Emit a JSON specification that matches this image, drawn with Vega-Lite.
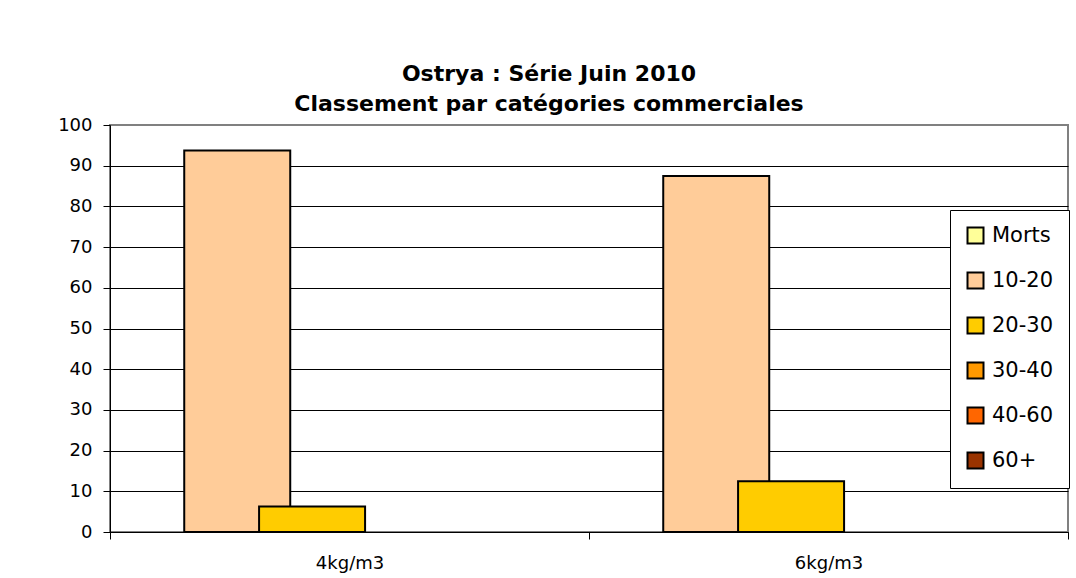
{
  "$schema": "https://vega.github.io/schema/vega-lite/v6.json",
  "width": 958,
  "height": 407,
  "autosize": {"type": "none"},
  "padding": {"left": 110, "top": 125, "right": 8, "bottom": 46},
  "background": "white",
  "title": {
    "text": ["Ostrya : Série Juin 2010", "Classement par catégories commerciales"],
    "font": "DejaVu Sans",
    "fontSize": 22,
    "fontWeight": "bold",
    "color": "black",
    "anchor": "middle",
    "dx": -40,
    "offset": 0,
    "lineHeight": 30
  },
  "data": {
    "values": [
      {"densite": "4kg/m3", "categorie": "Morts", "valeur": 0},
      {"densite": "4kg/m3", "categorie": "10-20", "valeur": 93.75},
      {"densite": "4kg/m3", "categorie": "20-30", "valeur": 6.25},
      {"densite": "4kg/m3", "categorie": "30-40", "valeur": 0},
      {"densite": "4kg/m3", "categorie": "40-60", "valeur": 0},
      {"densite": "4kg/m3", "categorie": "60+", "valeur": 0},
      {"densite": "6kg/m3", "categorie": "Morts", "valeur": 0},
      {"densite": "6kg/m3", "categorie": "10-20", "valeur": 87.5},
      {"densite": "6kg/m3", "categorie": "20-30", "valeur": 12.5},
      {"densite": "6kg/m3", "categorie": "30-40", "valeur": 0},
      {"densite": "6kg/m3", "categorie": "40-60", "valeur": 0},
      {"densite": "6kg/m3", "categorie": "60+", "valeur": 0}
    ]
  },
  "transform": [{"filter": "datum.valeur > 0"}],
  "mark": {"type": "bar", "width": 106, "stroke": "black", "strokeWidth": 2},
  "encoding": {
    "x": {
      "field": "densite",
      "type": "nominal",
      "scale": {"paddingInner": 0, "paddingOuter": 0},
      "axis": {
        "title": null,
        "labelAngle": 0,
        "labelFont": "DejaVu Sans",
        "labelFontSize": 18,
        "labelColor": "black",
        "labelPadding": 15,
        "tickBand": "extent",
        "tickSize": 7,
        "tickColor": "black",
        "domainColor": "black",
        "domainWidth": 1,
        "zindex": 1
      }
    },
    "xOffset": {
      "field": "categorie",
      "type": "nominal",
      "scale": {
        "domain": ["Morts", "10-20", "20-30", "30-40", "40-60", "60+"],
        "paddingInner": 0,
        "paddingOuter": 0.2
      }
    },
    "y": {
      "field": "valeur",
      "type": "quantitative",
      "scale": {"domain": [0, 100], "nice": false},
      "axis": {
        "title": null,
        "values": [0, 10, 20, 30, 40, 50, 60, 70, 80, 90, 100],
        "labelFont": "DejaVu Sans",
        "labelFontSize": 18,
        "labelColor": "black",
        "labelPadding": 11,
        "tickSize": 7,
        "tickColor": "black",
        "domainColor": "black",
        "grid": true,
        "gridColor": {"condition": {"test": "datum.value === 100", "value": "#808080"}, "value": "black"},
        "gridWidth": 1,
        "gridOpacity": 1
      }
    },
    "color": {
      "field": "categorie",
      "type": "nominal",
      "scale": {
        "domain": ["Morts", "10-20", "20-30", "30-40", "40-60", "60+"],
        "range": ["#FFFF99", "#FFCC99", "#FFCC00", "#FF9900", "#FF6600", "#993300"]
      },
      "legend": {
        "title": null,
        "orient": "none",
        "legendX": 840,
        "legendY": 85,
        "padding": 15,
        "fillColor": "white",
        "strokeColor": "black",
        "symbolType": "square",
        "symbolSize": 256,
        "symbolStrokeColor": "black",
        "symbolStrokeWidth": 2,
        "symbolOpacity": 1,
        "labelFont": "DejaVu Sans",
        "labelFontSize": 21,
        "labelColor": "black",
        "labelOffset": 6,
        "rowPadding": 20
      }
    }
  },
  "config": {
    "view": {"stroke": "#808080", "strokeWidth": 2},
    "axis": {"gridDash": []}
  }
}
